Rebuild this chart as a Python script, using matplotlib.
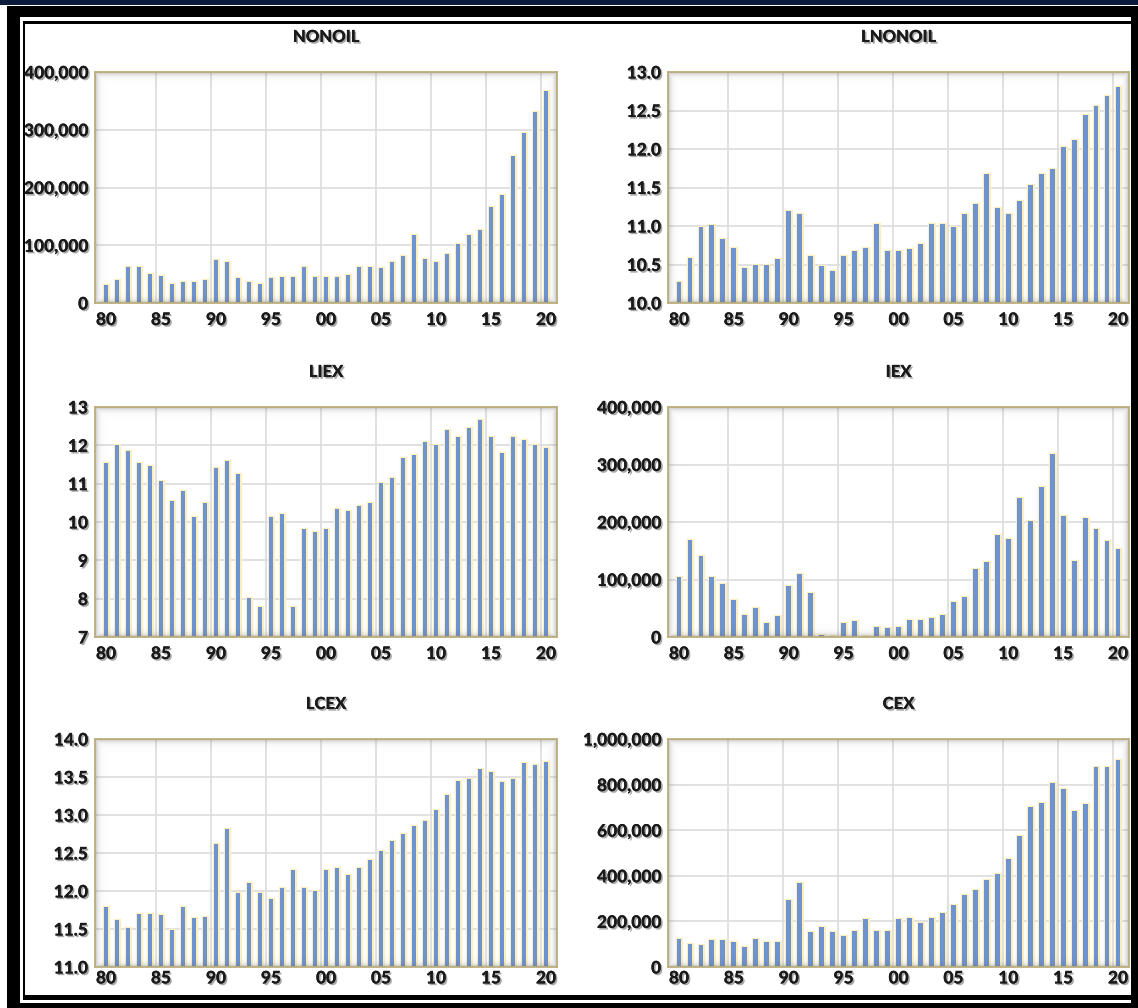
import numpy as np
import matplotlib
matplotlib.use("Agg")
import matplotlib.pyplot as plt
from matplotlib.patches import Rectangle
from matplotlib import patheffects as pe
from matplotlib.ticker import FuncFormatter, MultipleLocator

# ---------------------------------------------------------------- data
years = list(range(1980, 2021))

nonoil = [31700, 40000, 62000, 62000, 51000, 46000, 33000, 36000, 36000, 40000,
          74000, 71000, 43000, 36000, 33000, 43000, 45000, 45000, 62000, 45000,
          45000, 45000, 48000, 62000, 62000, 60000, 71000, 82000, 118000, 77000,
          71000, 85000, 102000, 118000, 127000, 166000, 187000, 254000, 294000,
          330000, 367000]

lnonoil = [10.27, 10.59, 10.99, 11.01, 10.83, 10.72, 10.45, 10.50, 10.50, 10.57,
           11.20, 11.16, 10.61, 10.48, 10.42, 10.61, 10.68, 10.72, 11.03, 10.68,
           10.68, 10.70, 10.76, 11.03, 11.03, 10.99, 11.15, 11.29, 11.67, 11.23,
           11.16, 11.33, 11.53, 11.68, 11.74, 12.02, 12.12, 12.44, 12.56, 12.69,
           12.80]

liex = [11.53, 12.01, 11.84, 11.53, 11.45, 11.06, 10.54, 10.80, 10.12, 10.50,
        11.41, 11.58, 11.24, 8.01, 7.79, 10.12, 10.21, 7.79, 9.81, 9.73,
        9.81, 10.33, 10.29, 10.42, 10.50, 11.02, 11.16, 11.67, 11.75, 12.10,
        12.01, 12.40, 12.23, 12.44, 12.66, 12.23, 11.80, 12.23, 12.14, 12.01,
        11.92]

iex = [104000, 169000, 141000, 104000, 93000, 65000, 38000, 50000, 24000, 36000,
       89000, 110000, 76000, 3000, 2400, 24000, 27000, 2400, 18000, 15000,
       18000, 30000, 30000, 33000, 38000, 61000, 70000, 118000, 130000, 178000,
       170000, 241000, 201000, 261000, 318000, 210000, 133000, 207000, 187000,
       167000, 153000]

lcex = [11.79, 11.62, 11.51, 11.70, 11.70, 11.68, 11.49, 11.79, 11.64, 11.66,
        12.62, 12.81, 11.98, 12.11, 11.98, 11.90, 12.04, 12.28, 12.04, 12.00,
        12.28, 12.30, 12.21, 12.30, 12.41, 12.53, 12.66, 12.75, 12.86, 12.92,
        13.07, 13.26, 13.45, 13.47, 13.60, 13.56, 13.43, 13.47, 13.68, 13.66,
        13.70]

cex = [125000, 103000, 96000, 118000, 118000, 110000, 89000, 125000, 110000, 110000,
       295000, 368000, 153000, 174000, 153000, 138000, 160000, 209000, 160000, 160000,
       209000, 217000, 195000, 217000, 238000, 273000, 315000, 339000, 381000, 410000,
       472000, 573000, 701000, 721000, 805000, 779000, 686000, 714000, 878000, 878000,
       907000]

xtick_years = list(range(1980, 2021, 5))
xtick_labels = ["80", "85", "90", "95", "00", "05", "10", "15", "20"]

# ---------------------------------------------------------------- styling
W, H = 1138, 1008
BAR_BLUE = "#6f93cf"
BAR_GLOW = "#fbefbf"
SPINE = "#bcae7c"
GRID = "#dcdcdc"
TEXT = "#1a1a1a"
FONT = ["Lato", "DejaVu Sans"]
shadow = [pe.withSimplePatchShadow(offset=(1.2, -1.2), shadow_rgbFace="#6e6e6e", alpha=0.6),
          pe.Normal()]

fig = plt.figure(figsize=(W / 100, H / 100), dpi=100)
fig.patch.set_facecolor("white")


def px_rect(x0, y0, x1, y1):
    """Figure-fraction rectangle from pixel coordinates measured from top-left."""
    return (x0 / W, 1 - y1 / H, (x1 - x0) / W, (y1 - y0) / H)


def add_box(x0, y0, x1, y1, color, z):
    l, b, w, h = px_rect(x0, y0, x1, y1)
    fig.add_artist(Rectangle((l, b), w, h, transform=fig.transFigure,
                             facecolor=color, edgecolor="none", zorder=z))


# page frame: navy strip on top, double black border
add_box(0, 0, W, 5, "#0c1a3d", -20)
add_box(7, 6, W, H, "black", -19)
add_box(20, 17, 1131, 1003, "white", -18)
add_box(23, 21, 1131, 1000, "black", -17)
add_box(25, 24, 1131, 995, "white", -16)


def comma_fmt(v, _):
    return f"{int(round(v)):,}"


def one_dec(v, _):
    return f"{v:.1f}"


def int_fmt(v, _):
    return f"{int(round(v))}"


panels = [
    ("NONOIL", nonoil, (0, 400000), 100000, comma_fmt, (95, 72, 557, 303)),
    ("LNONOIL", lnonoil, (10.0, 13.0), 0.5, one_dec, (668, 72, 1129, 303)),
    ("LIEX", liex, (7, 13), 1, int_fmt, (95, 407, 557, 637)),
    ("IEX", iex, (0, 400000), 100000, comma_fmt, (668, 407, 1129, 637)),
    ("LCEX", lcex, (11.0, 14.0), 0.5, one_dec, (95, 739, 557, 967)),
    ("CEX", cex, (0, 1000000), 200000, comma_fmt, (668, 739, 1129, 967)),
]


def inner_shadow(ax, wpx, hpx):
    xs = np.arange(wpx)[None, :]
    ys = np.arange(hpx)[:, None]
    d = np.minimum(np.minimum(xs, wpx - 1 - xs), np.minimum(ys, hpx - 1 - ys))
    alpha = 0.42 * np.exp(-d / 2.6)
    rgba = np.zeros((hpx, wpx, 4))
    rgba[..., :3] = 0.42
    rgba[..., 3] = alpha
    ax.imshow(rgba, extent=(0, 1, 0, 1), transform=ax.transAxes,
              aspect="auto", zorder=4, interpolation="bilinear")


for title, vals, ylim, step, fmt, (x0, y0, x1, y1) in panels:
    ax = fig.add_axes(px_rect(x0, y0, x1, y1))
    ax.set_facecolor("white")
    ax.set_axisbelow(True)

    # glow behind each bar, then the bar itself
    ax.bar(years, vals, width=0.44, color=BAR_GLOW, edgecolor=BAR_GLOW,
           linewidth=2.4, zorder=2)
    ax.bar(years, vals, width=0.44, color=BAR_BLUE, edgecolor="none", zorder=3)

    inner_shadow(ax, x1 - x0, y1 - y0)

    ax.set_xlim(1979, 2021)
    ax.set_ylim(*ylim)
    ax.yaxis.set_major_locator(MultipleLocator(step))
    ax.yaxis.set_major_formatter(FuncFormatter(fmt))
    ax.set_xticks(xtick_years)
    ax.set_xticklabels(xtick_labels)
    ax.set_xticks([y - 0.5 for y in xtick_years[1:]], minor=True)

    ax.grid(axis="y", which="major", color=GRID, linewidth=1.2)
    ax.grid(axis="x", which="minor", color=GRID, linewidth=1.2)
    ax.tick_params(which="both", length=0)
    ax.tick_params(axis="y", pad=5)
    ax.tick_params(axis="x", pad=2.5 if y1 > 900 else 6.5)

    for lab in ax.get_xticklabels() + ax.get_yticklabels():
        lab.set_fontfamily(FONT)
        lab.set_fontweight("black")
        lab.set_fontsize(12.5)
        lab.set_color(TEXT)
        lab.set_path_effects(shadow)

    for s in ax.spines.values():
        s.set_color(SPINE)
        s.set_linewidth(1.3)
        s.set_zorder(5)

    tx = (x0 + x1) / 2 / W
    ty = 1 - (y0 - 35) / H
    fig.text(tx, ty, title, ha="center", va="center", fontsize=12,
             fontweight="black", family=FONT, color=TEXT, path_effects=shadow)

fig.savefig("out.png", dpi=100, facecolor="white")
